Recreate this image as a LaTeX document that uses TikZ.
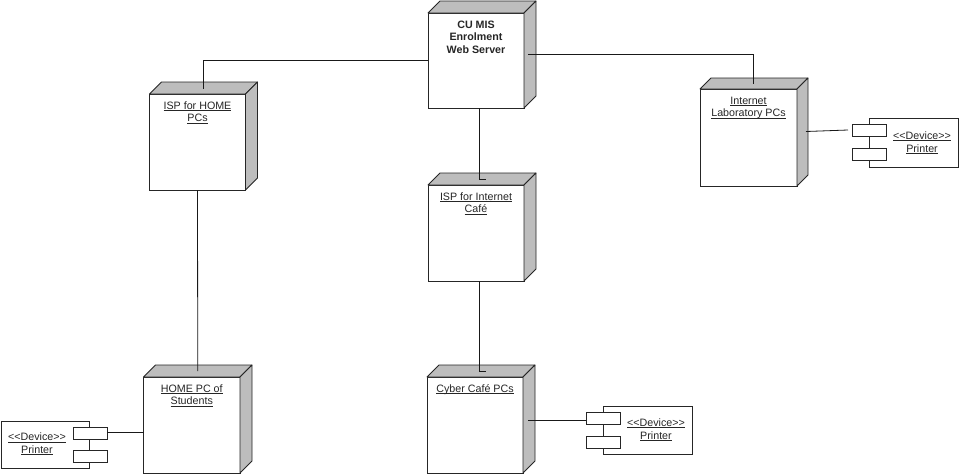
\documentclass[tikz,border=0pt]{standalone}
\usepackage{fontspec}
\setmainfont{Liberation Sans}
\newcommand\ult[1]{{\setbox0\hbox{#1}\rlap{\rule[-1.6pt]{\wd0}{0.7pt}}\box0}}
\tikzset{
  devfront/.style={draw=black!85,line width=0.8pt,fill=white,rectangle,inner sep=0pt,outer sep=0pt,anchor=north west},
  face/.style={draw=black!85,line width=0.8pt,fill=black!26,line join=round},
  devtext/.style={anchor=north,inner sep=0pt,outer sep=0pt,align=center,text=black!85,font=\fontsize{10.7}{12.8}\selectfont},
  partbody/.style={draw=black!85,line width=0.8pt,fill=white,rectangle,inner sep=0pt,outer sep=0pt,anchor=north west},
  partport/.style={draw=black!85,line width=0.8pt,fill=white,rectangle,inner sep=0pt,outer sep=0pt,anchor=north west,minimum width=34pt,minimum height=12pt},
  conn/.style={draw=black!90,line width=0.8pt}
}
% name, x, y, w, h, depth, text
\newcommand\devbox[7]{%
  \node[devfront,minimum width=#4pt,minimum height=#5pt] (#1) at (#2,#3) {};
  \path[face] (#1.north west) -- ++(#6,-#6) -- ++(#4,0) -- (#1.north east) -- cycle;
  \path[face] (#1.north east) -- ++(#6,-#6) -- ++(0,#5) -- (#1.south east) -- cycle;
  \node[devtext] (#1-text) at (#1.north) {\rule{0pt}{15pt}#7};
}
% name, x, y, w, h, port x, port y1, port y2, text position
\newcommand\devpart[9]{%
  \node[partbody,minimum width=#4pt,minimum height=#5pt] (#1) at (#2,#3) {};
  \node[partport] (#1-a) at (#6,#7) {};
  \node[partport] (#1-b) at (#6,#8) {};
  \node[devtext] (#1-text) at (#9) {\ult{<{}<Device>{}>}\\\ult{Printer}};
}
\begin{document}
\begin{tikzpicture}[x=1pt,y=-1pt]
\useasboundingbox[fill=white] (0,0) rectangle (959,474);
\devbox{srv}{428}{13}{96}{95}{12}{\textbf{CU MIS}\\\textbf{Enrolment}\\\textbf{Web Server}}
\devbox{isph}{149.5}{94}{96}{96}{12}{\ult{ISP for HOME}\\\ult{PCs}}
\devbox{cafe}{428}{185}{96}{96}{12}{\ult{ISP for Internet}\\\ult{Café}}
\devbox{home}{143.5}{377}{96.5}{96}{12}{\ult{HOME PC of}\\\ult{Students}}
\devbox{cyber}{427}{377}{96}{96}{12}{\ult{Cyber Café PCs}}
\devbox{lab}{700}{89}{97}{97}{11}{\ult{Internet}\\\ult{Laboratory PCs}}
\devpart{pl}{869}{118}{89}{49}{852}{124}{148}{922,131.5}
\devpart{pc}{603}{406}{89}{48}{586}{412}{436}{656,418.5}
\devpart{ph}{1}{421}{88}{47}{73}{427}{450}{37,433}
\draw[conn] (srv.west) -| ([xshift=5.4pt,yshift=5pt]isph.north);
\draw[conn] ([xshift=4pt,yshift=6.5pt]srv.east) -| ([xshift=4.5pt,yshift=5pt]lab.north);
\draw[conn] ([xshift=3pt]srv.south) |- ([xshift=10pt,yshift=6pt]cafe.north);
\draw[conn] ([xshift=3pt]cafe.south) |- ([xshift=11pt,yshift=6pt]cyber.north);
\draw[conn] (isph.south) -- ([xshift=6pt,yshift=6pt]home.north);
\draw[conn] ([yshift=1pt]ph-a.east) -- ([yshift=1pt]ph-a.east -| home.west);
\draw[conn] ([xshift=5pt,yshift=5pt]cyber.east) -- ([yshift=-2pt]pc-a.west);
\draw[conn] ([xshift=9pt,yshift=6pt]lab.east) -- ([xshift=-4pt]pl-a.west);
\end{tikzpicture}
\end{document}
